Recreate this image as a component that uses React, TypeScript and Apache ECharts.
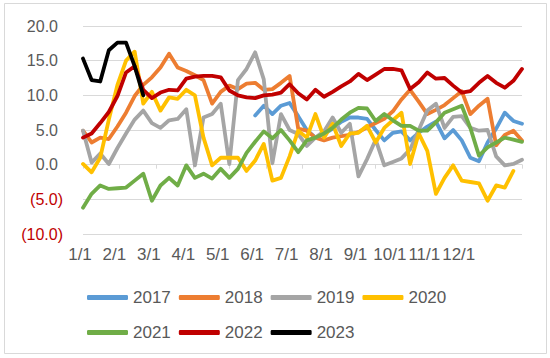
import React, { useEffect, useRef } from "react";
import * as echarts from "echarts";

const monthLabels = ["1/1", "2/1", "3/1", "4/1", "5/1", "6/1", "7/1", "8/1", "9/1", "10/1", "11/1", "12/1"];
const weeks = Array.from({ length: 52 }, (_, i) => "W" + (i + 1));

const s2017 = [
  null, null, null, null, null, null, null, null, null, null,
  null, null, null, null, null, null, null, null, null, null,
  7.1, 8.5, 7.3, 8.5, 8.9, 7.0, 5.0, 3.9, 4.4, 5.2,
  6.2, 6.8, 6.8, 6.6, 5.0, 3.5, 4.6, 4.8, 3.5, 4.6,
  5.5, 6.2, 3.8, 5.0, 3.5, 1.0, 0.5, 3.2, 5.2, 7.5,
  6.3, 5.9,
];
const s2018 = [
  4.9, 3.2, 3.9, 3.7, 5.5, 7.5, 9.9, 11.5, 12.6, 14.0,
  16.0, 14.0, 13.5, 12.9, 12.2, 8.8, 10.5, 11.4, 10.9, 11.7,
  11.8, 10.8, 10.9, 11.8, 12.8, 5.2, 4.9, 3.9, 3.5, 3.9,
  4.1, 4.3, 4.7, 5.4, 6.0, 6.6, 7.7, 9.4, 10.8, 9.1,
  7.3, 7.9, 8.6, 9.6, 10.6, 7.3, 8.5, 9.5, 2.8, 4.3,
  4.9, 3.5,
];
const s2019 = [
  4.9, 0.3, 1.6, 0.1, 2.4, 4.5, 6.5, 7.8, 6.0, 5.3,
  6.4, 6.6, 8.0, -0.1, 6.8, 7.3, 8.8, 0.1, 12.2, 13.8,
  16.2, 12.3, 0.2, 7.3, 5.0, 4.4, 2.7, 3.9, 4.8, 6.8,
  4.6, 5.9, -1.7, 0.8, 3.6, -0.1, 0.4, 0.9, 2.2, 5.0,
  7.8, 8.8, 5.3, 6.9, 7.0, 5.3, 4.9, 5.0, 1.2, -0.1,
  0.1, 0.7,
];
const s2020 = [
  0.1, -1.1, 1.0, 6.5, 11.5, 15.0, 16.3, 8.8, 10.5, 7.8,
  9.7, 9.5, 10.8, 10.0, 3.9, -0.1, 1.0, 1.0, 1.0, -0.9,
  0.6, 3.0, -2.3, -1.9, 1.2, 4.9, 3.9, 7.3, 3.9, 5.9,
  2.7, 4.5, 4.6, 5.6, 3.2, 5.3, 6.4, 7.5, 0.1, 4.5,
  2.0, -4.2, -1.9, -0.1, -2.3, -2.5, -2.7, -5.2, -3.0, -3.3,
  -0.9,
];
const s2021 = [
  -6.2, -4.2, -3.0, -3.5, -3.4, -3.3, -2.3, -1.3, -5.2, -3.0,
  -1.9, -3.0, -0.1, -1.9, -1.3, -2.0, -0.6, -1.9, -0.6, 1.7,
  3.3, 4.8, 3.8, 5.0, 3.5, 1.8, 3.5, 3.9, 4.5, 5.3,
  6.5, 7.5, 8.2, 8.1, 6.3, 7.3, 6.4, 5.6, 5.6, 4.9,
  4.9, 6.1, 7.5, 8.0, 8.5, 5.3, 1.3, 2.5, 3.2, 3.9,
  3.6, 3.3,
];
const s2022 = [
  3.9, 4.5, 6.0, 7.6, 9.9, 13.3, 14.2, 10.8, 9.6, 10.4,
  10.8, 10.7, 12.4, 12.7, 12.8, 12.8, 12.6, 10.7, 10.0, 9.7,
  9.6, 10.0, 10.1, 10.4, 11.6, 10.3, 9.4, 10.8, 9.8, 10.5,
  11.3, 12.0, 13.1, 12.2, 13.0, 13.8, 13.8, 13.6, 10.9, 11.9,
  13.3, 12.4, 12.5, 11.4, 10.4, 10.6, 11.8, 12.8, 11.8, 11.1,
  12.1, 13.8,
];
const s2023 = [15.3, 12.2, 12.0, 16.5, 17.6, 17.6, 14.2, 10.0];

const seriesNames = ["2017", "2018", "2019", "2020", "2021", "2022", "2023"];
const seriesData = [s2017, s2018, s2019, s2020, s2021, s2022, s2023];
const colors = ["#5b9bd5", "#ed7d31", "#a5a5a5", "#ffc000", "#70ad47", "#c00000", "#000000"];

const FONT = "'Liberation Sans', Arial, sans-serif";

export default function App() {
  const ref = useRef<HTMLDivElement>(null);
  useEffect(() => {
    if (!ref.current) return;
    const chart = echarts.init(ref.current, null, { renderer: "svg" });
    chart.setOption({
      animation: false,
      color: colors,
      textStyle: { fontFamily: FONT },
      graphic: [
        {
          type: "rect",
          shape: { x: 4.5, y: 3.5, width: 542, height: 350 },
          style: { fill: "none", stroke: "#d9d9d9", lineWidth: 1 },
          silent: true,
        },
      ],
      grid: { left: 83, right: 28, top: 26, bottom: 124, containLabel: false },
      legend: [
        {
          data: seriesNames.slice(0, 4),
          left: 82,
          top: 284,
          itemWidth: 41,
          itemHeight: 5,
          itemGap: 8,
          icon: "roundRect",
          textStyle: { fontSize: 17, color: "#595959", fontFamily: FONT },
        },
        {
          data: seriesNames.slice(4),
          left: 82,
          top: 319,
          itemWidth: 41,
          itemHeight: 5,
          itemGap: 8,
          icon: "roundRect",
          textStyle: { fontSize: 17, color: "#595959", fontFamily: FONT },
        },
      ],
      xAxis: [
        {
          type: "category",
          data: weeks,
          boundaryGap: false,
          axisLine: { show: false, onZero: false },
          axisTick: { show: false },
          splitLine: { show: false },
          axisLabel: {
            interval: 3,
            margin: 12,
            fontSize: 17,
            color: "#595959",
            fontFamily: FONT,
            padding: [0, 6, 0, 0],
            formatter: (_v: string, idx: number) => monthLabels[idx / 4] ?? "",
          },
        },
        {
          type: "value",
          min: 0,
          max: 12,
          interval: 1,
          position: "bottom",
          axisLine: { show: true, onZero: true, lineStyle: { color: "#d9d9d9", width: 1 } },
          axisTick: { show: true, length: 4, lineStyle: { color: "#d9d9d9" } },
          axisLabel: { show: false },
          splitLine: { show: false },
        },
      ],
      yAxis: {
        type: "value",
        min: -10,
        max: 20,
        interval: 5,
        axisLine: { show: false },
        axisTick: { show: false },
        splitLine: { lineStyle: { color: "#d9d9d9", width: 1 } },
        axisLabel: {
          margin: 20,
          fontSize: 16,
          fontFamily: FONT,
          formatter: (v: number) =>
            v < 0 ? `{neg|(${Math.abs(v).toFixed(1)})}` : `{pos|${v.toFixed(1)}}`,
          rich: {
            neg: { color: "#c00000", fontSize: 16, fontFamily: FONT },
            pos: { color: "#595959", fontSize: 16, fontFamily: FONT, padding: [0, 5, 0, 0] },
          },
        },
      },
      series: seriesNames.map((name, k) => ({
        name,
        type: "line",
        xAxisIndex: 0,
        data: seriesData[k],
        showSymbol: false,
        symbol: "none",
        connectNulls: false,
        lineStyle: { width: 3.8, color: colors[k], cap: "round", join: "round" },
        itemStyle: { color: colors[k] },
      })),
    });
    return () => chart.dispose();
  }, []);
  return (
    <div
      ref={ref}
      style={{ position: "fixed", left: 0, top: 0, width: 550, height: 358, background: "#fff" }}
    />
  );
}
